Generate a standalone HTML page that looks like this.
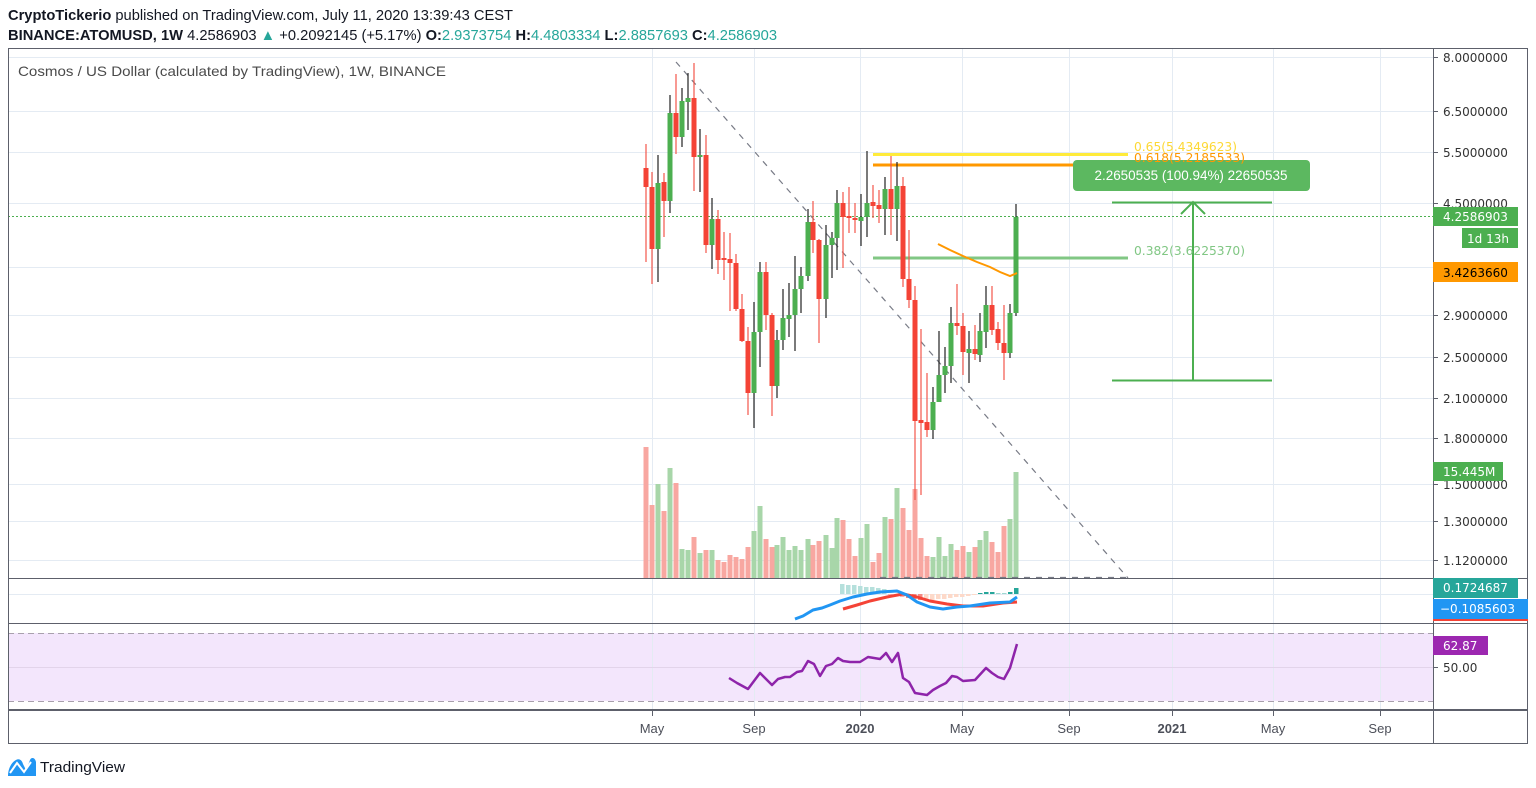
<!DOCTYPE html>
<html><head><meta charset="utf-8"><style>
html,body{margin:0;padding:0;background:#fff;width:1536px;height:788px;overflow:hidden}
svg{display:block}
.ax{font-family:"DejaVu Sans",sans-serif;font-size:12px;fill:#333}
.hd{font-family:"Liberation Sans",sans-serif;font-size:15px;fill:#131722}
.tm{font-family:"Liberation Sans",sans-serif;font-size:13px;fill:#4c4f59}
</style></head><body>
<svg width="1536" height="788" viewBox="0 0 1536 788" xmlns="http://www.w3.org/2000/svg">
<rect width="1536" height="788" fill="#fff"/>
<!-- header -->
<text class="hd" x="8" y="20" textLength="505" lengthAdjust="spacingAndGlyphs"><tspan font-weight="bold">CryptoTickerio</tspan> published on TradingView.com, July 11, 2020 13:39:43 CEST</text>
<text class="hd" x="8" y="40" textLength="769" lengthAdjust="spacingAndGlyphs"><tspan font-weight="bold">BINANCE:ATOMUSD, 1W</tspan> 4.2586903 <tspan fill="#26a69a">▲</tspan> +0.2092145 (+5.17%) <tspan font-weight="bold">O:</tspan><tspan fill="#26a69a">2.9373754</tspan> <tspan font-weight="bold">H:</tspan><tspan fill="#26a69a">4.4803334</tspan> <tspan font-weight="bold">L:</tspan><tspan fill="#26a69a">2.8857693</tspan> <tspan font-weight="bold">C:</tspan><tspan fill="#26a69a">4.2586903</tspan></text>

<!-- RSI background -->
<rect x="8" y="633" width="1425" height="68" fill="#f3e6fc"/>

<!-- grid -->
<g stroke="#e4ebf3" stroke-width="1">
<path d="M652.5 49V710M754.5 49V710M860.5 49V710M962.5 49V710M1069.5 49V710M1172.5 49V710M1273.5 49V710M1380.5 49V710"/>
<path d="M8 57.5H1433M8 111.5H1433M8 152.5H1433M8 203.5H1433M8 267.5H1433M8 315.5H1433M8 357.5H1433M8 398.5H1433M8 438.5H1433M8 484.5H1433M8 521.5H1433M8 560.5H1433"/>
<path d="M8 594.5H1433"/>
<path d="M8 667.5H1433" stroke="#e2d4ea"/>
</g>
<g stroke="#a8a0ad" stroke-width="1" stroke-dasharray="6,4">
<path d="M8 633.5H1433M8 701.5H1433"/>
</g>

<!-- volume -->
<g fill="#a8d6a9">
<rect x="655.5" y="484" width="5" height="94"/><rect x="667.5" y="468" width="5" height="110"/><rect x="679.5" y="549" width="5" height="29"/><rect x="685.5" y="550" width="5" height="28"/><rect x="697.5" y="553" width="5" height="25"/><rect x="709.5" y="550" width="5" height="28"/><rect x="751.5" y="531" width="5" height="47"/><rect x="757.5" y="506" width="5" height="72"/><rect x="774.5" y="545" width="5" height="33"/><rect x="780.5" y="537" width="5" height="41"/><rect x="786.5" y="550" width="5" height="28"/><rect x="792.5" y="546" width="5" height="32"/><rect x="798.5" y="550" width="5" height="28"/><rect x="805.5" y="539" width="5" height="39"/><rect x="823.5" y="535" width="5" height="43"/><rect x="829.5" y="548" width="5" height="30"/><rect x="834.5" y="518" width="5" height="60"/><rect x="858.5" y="538" width="5" height="40"/><rect x="864.5" y="524" width="5" height="54"/><rect x="882.5" y="517" width="5" height="61"/><rect x="894.5" y="488" width="5" height="90"/><rect x="930.5" y="557" width="5" height="21"/><rect x="936.5" y="537" width="5" height="41"/><rect x="942.5" y="556" width="5" height="22"/><rect x="948.5" y="544" width="5" height="34"/><rect x="966.5" y="552" width="5" height="26"/><rect x="977.5" y="540" width="5" height="38"/><rect x="983.5" y="531" width="5" height="47"/><rect x="1007.5" y="519" width="5" height="59"/><rect x="1013.5" y="472" width="5" height="106"/>
</g>
<g fill="#f8a7a1">
<rect x="643.5" y="447" width="5" height="131"/><rect x="649.5" y="505" width="5" height="73"/><rect x="661.5" y="511" width="5" height="67"/><rect x="673.5" y="483" width="5" height="95"/><rect x="691.5" y="537" width="5" height="41"/><rect x="703.5" y="550" width="5" height="28"/><rect x="715.5" y="560" width="5" height="18"/><rect x="721.5" y="562" width="5" height="16"/><rect x="727.5" y="555" width="5" height="23"/><rect x="733.5" y="557" width="5" height="21"/><rect x="739.5" y="559" width="5" height="19"/><rect x="745.5" y="547" width="5" height="31"/><rect x="763.5" y="539" width="5" height="39"/><rect x="769.5" y="547" width="5" height="31"/><rect x="810.5" y="545" width="5" height="33"/><rect x="816.5" y="541" width="5" height="37"/><rect x="840.5" y="520" width="5" height="58"/><rect x="846.5" y="539" width="5" height="39"/><rect x="852.5" y="556" width="5" height="22"/><rect x="870.5" y="562" width="5" height="16"/><rect x="876.5" y="553" width="5" height="25"/><rect x="888.5" y="519" width="5" height="59"/><rect x="900.5" y="508" width="5" height="70"/><rect x="906.5" y="530" width="5" height="48"/><rect x="912.5" y="489" width="5" height="89"/><rect x="918.5" y="538" width="5" height="40"/><rect x="924.5" y="556" width="5" height="22"/><rect x="954.5" y="550" width="5" height="28"/><rect x="960.5" y="546" width="5" height="32"/><rect x="972.5" y="547" width="5" height="31"/><rect x="989.5" y="542" width="5" height="36"/><rect x="995.5" y="552" width="5" height="26"/><rect x="1001.5" y="526" width="5" height="52"/>
</g>

<!-- current price dotted line -->
<path d="M8 216.5H1433" stroke="#4caf50" stroke-width="1" stroke-dasharray="2,2"/>

<!-- trend line -->
<path d="M676 62L1128 578" stroke="#787b86" stroke-width="1.2" stroke-dasharray="6,6" fill="none"/>
<path d="M880 577.5H1130" stroke="#787b86" stroke-width="1.2" stroke-dasharray="6,6"/>

<!-- fib lines -->
<path d="M873 154.5H1128" stroke="#ffeb3b" stroke-width="3"/>
<path d="M873 165H1128" stroke="#ff9800" stroke-width="3"/>
<path d="M873 258H1128" stroke="#81c784" stroke-width="3"/>

<!-- candles wicks -->
<path stroke="#222" stroke-width="1.2" fill="none" d="M658 155V282M670 95V213M682 88V147M688 73V130M700 129V192M712 198V269M754 302V428M760 262V367M777 330V398M783 289V350M789 283V337M795 256V351M801 267V313M808 209V281M826 225V318M832 232V278M837 190V270M861 194V246M867 151V237M885 177V235M897 162V241M933 387V439M939 331V402M945 347V393M951 307V383M969 331V383M980 313V362M986 286V348M1010 304V358M1016 204V316"/>
<path stroke="#f2564b" stroke-width="1.2" fill="none" d="M646 144V262M652 172V284M664 173V237M676 74V154M694 63V191M706 135V253M718 210V274M724 232V280M730 233V311M736 254V311M742 294V342M748 327V415M766 262V330M772 313V416M813 201V253M819 239V343M843 192V268M849 187V233M855 203V233M873 185V218M879 190V223M891 156V235M903 177V287M909 230V308M915 286V500M921 329V495M927 373V437M957 284V335M963 313V375M975 325V360M992 286V335M998 322V350M1004 305V380"/>
<g fill="#4caf50">
<rect x="655.5" y="183" width="5" height="66"/><rect x="667.5" y="113" width="5" height="88"/><rect x="679.5" y="101" width="5" height="36"/><rect x="685.5" y="98" width="5" height="4"/><rect x="697.5" y="155" width="5" height="2"/><rect x="709.5" y="219" width="5" height="26"/><rect x="751.5" y="332" width="5" height="61"/><rect x="757.5" y="272" width="5" height="60"/><rect x="774.5" y="340" width="5" height="46"/><rect x="780.5" y="318" width="5" height="22"/><rect x="786.5" y="315" width="5" height="4"/><rect x="792.5" y="289" width="5" height="26"/><rect x="798.5" y="276" width="5" height="13"/><rect x="805.5" y="222" width="5" height="54"/><rect x="823.5" y="245" width="5" height="54"/><rect x="829.5" y="238" width="5" height="7"/><rect x="834.5" y="203" width="5" height="35"/><rect x="858.5" y="217" width="5" height="4"/><rect x="864.5" y="203" width="5" height="14"/><rect x="882.5" y="189" width="5" height="20"/><rect x="894.5" y="186" width="5" height="23"/><rect x="930.5" y="402" width="5" height="28"/><rect x="936.5" y="375" width="5" height="27"/><rect x="942.5" y="366" width="5" height="9"/><rect x="948.5" y="323" width="5" height="43"/><rect x="966.5" y="349" width="5" height="4"/><rect x="977.5" y="331" width="5" height="24"/><rect x="983.5" y="305" width="5" height="27"/><rect x="1007.5" y="313" width="5" height="40"/><rect x="1013.5" y="217" width="5" height="96"/>
</g>
<g fill="#f44336">
<rect x="643.5" y="168" width="5" height="19"/><rect x="649.5" y="187" width="5" height="62"/><rect x="661.5" y="182" width="5" height="19"/><rect x="673.5" y="113" width="5" height="24"/><rect x="691.5" y="98" width="5" height="59"/><rect x="703.5" y="155" width="5" height="90"/><rect x="715.5" y="219" width="5" height="41"/><rect x="721.5" y="258" width="5" height="2"/><rect x="727.5" y="259" width="5" height="4"/><rect x="733.5" y="263" width="5" height="46"/><rect x="739.5" y="309" width="5" height="32"/><rect x="745.5" y="341" width="5" height="52"/><rect x="763.5" y="272" width="5" height="43"/><rect x="769.5" y="315" width="5" height="71"/><rect x="810.5" y="222" width="5" height="18"/><rect x="816.5" y="240" width="5" height="59"/><rect x="840.5" y="203" width="5" height="14"/><rect x="846.5" y="216" width="5" height="2"/><rect x="852.5" y="218" width="5" height="2"/><rect x="870.5" y="202" width="5" height="4"/><rect x="876.5" y="205" width="5" height="4"/><rect x="888.5" y="189" width="5" height="20"/><rect x="900.5" y="186" width="5" height="93"/><rect x="906.5" y="279" width="5" height="21"/><rect x="912.5" y="300" width="5" height="121"/><rect x="918.5" y="420" width="5" height="3"/><rect x="924.5" y="422" width="5" height="8"/><rect x="954.5" y="323" width="5" height="3"/><rect x="960.5" y="326" width="5" height="26"/><rect x="972.5" y="349" width="5" height="5"/><rect x="989.5" y="305" width="5" height="25"/><rect x="995.5" y="329" width="5" height="14"/><rect x="1001.5" y="343" width="5" height="10"/>
</g>

<!-- MA line -->
<polyline fill="none" stroke="#ff9800" stroke-width="2" points="938,244 950,250 963,256 977,262 990,267 1000,272 1010,276 1017,273"/>

<!-- measurement tool -->
<g stroke="#4caf50" stroke-width="2" fill="none">
<path d="M1112 202.5H1272M1112 380.5H1272M1193 203V380M1181 214L1193 202L1205 214"/>
</g>
<rect x="1073" y="160" width="237" height="31" rx="4" fill="#5cb860"/>
<text x="1191" y="180" text-anchor="middle" font-family="Liberation Sans, sans-serif" font-size="14" fill="#fff" textLength="193" lengthAdjust="spacingAndGlyphs">2.2650535 (100.94%) 22650535</text>

<!-- fib labels -->
<g font-family="DejaVu Sans, sans-serif" font-size="12">
<text x="1134" y="151" fill="#fdd835" textLength="103" lengthAdjust="spacingAndGlyphs">0.65(5.4349623)</text>
<text x="1134" y="162" fill="#ff9800" textLength="111" lengthAdjust="spacingAndGlyphs">0.618(5.2185533)</text>
<text x="1134" y="255" fill="#81c784" textLength="111" lengthAdjust="spacingAndGlyphs">0.382(3.6225370)</text>
</g>

<!-- MACD histogram -->
<g fill="#b6e0dc">
<rect x="840" y="584" width="4.5" height="10"/><rect x="846" y="585" width="4.5" height="9"/><rect x="852" y="585" width="4.5" height="9"/><rect x="858" y="586" width="4.5" height="8"/><rect x="864" y="587" width="4.5" height="7"/><rect x="870" y="587" width="4.5" height="7"/><rect x="876" y="588" width="4.5" height="6"/><rect x="882" y="589" width="4.5" height="5"/>
</g>
<g fill="#f9b1ab">
<rect x="888" y="594" width="4.5" height="1"/><rect x="894" y="594" width="4.5" height="2"/><rect x="900" y="594" width="4.5" height="3"/>
</g>
<g fill="#f48a82">
<rect x="906" y="594" width="4.5" height="4"/><rect x="912" y="594" width="4.5" height="5"/><rect x="918" y="594" width="4.5" height="6"/>
</g>
<g fill="#fdd9c9">
<rect x="924" y="594" width="4.5" height="6"/><rect x="930" y="594" width="4.5" height="6"/><rect x="936" y="594" width="4.5" height="5"/><rect x="942" y="594" width="4.5" height="5"/><rect x="948" y="594" width="4.5" height="4"/><rect x="954" y="594" width="4.5" height="3"/><rect x="960" y="594" width="4.5" height="3"/><rect x="966" y="594" width="4.5" height="2"/><rect x="972" y="594" width="4.5" height="1"/>
</g>
<g fill="#26a69a">
<rect x="978" y="593" width="4.5" height="1"/><rect x="984" y="592" width="4.5" height="2"/><rect x="990" y="592" width="4.5" height="2"/><rect x="996" y="593" width="4.5" height="1" fill="#9fd8d2"/><rect x="1002" y="593" width="4.5" height="1" fill="#9fd8d2"/><rect x="1008" y="592" width="4.5" height="2"/><rect x="1014" y="588" width="4.5" height="6"/>
</g>
<!-- MACD lines -->
<polyline fill="none" stroke="#f44336" stroke-width="3" stroke-linejoin="round" points="843,609 857,605 870,601 887,597 903,594 917,597 930,601 947,604 963,606 983,606 1003,603 1017,602"/>
<polyline fill="none" stroke="#2196f3" stroke-width="3" stroke-linejoin="round" points="795,619 803,616 813,610 822,608 830,605 840,601 853,597 867,594 880,592 897,591 907,595 917,602 930,607 943,609 957,607 970,606 990,603 1010,602 1017,597"/>

<!-- RSI line -->
<polyline fill="none" stroke="#8e24aa" stroke-width="2.5" stroke-linejoin="round" points="729,678 737,683 748,689 760,673 772,685 778,679 785,677 790,677 797,672 802,671 808,661 814,664 820,676 826,666 832,664 838,658 843,661 850,662 860,662 868,657 880,659 886,653 892,662 898,653 903,678 909,682 915,693 927,695 933,690 940,686 946,683 952,676 957,677 963,681 975,680 986,668 992,673 998,677 1004,679 1010,668 1017,644"/>

<!-- legend -->
<text x="18" y="76" font-family="Liberation Sans, sans-serif" font-size="14" fill="#4a4a4a" textLength="428" lengthAdjust="spacingAndGlyphs">Cosmos / US Dollar (calculated by TradingView), 1W, BINANCE</text>

<!-- frame -->
<rect x="1433" y="48" width="95" height="696" fill="#fff"/>
<rect x="8" y="711" width="1425" height="33" fill="#fff"/>
<g stroke="#5d606b" stroke-width="1" fill="none">
<path d="M8.5 48V744M1527.5 48V744M1433.5 48V744M8 48.5H1528M8 578.5H1528M8 623.5H1528M8 743.5H1528"/>
</g>
<path d="M8 710H1528" stroke="#5d606b" stroke-width="2"/>

<!-- price axis ticks and labels -->
<g stroke="#5d606b" stroke-width="1">
<path d="M1433 57.5H1438M1433 111.5H1438M1433 152.5H1438M1433 203.5H1438M1433 315.5H1438M1433 357.5H1438M1433 398.5H1438M1433 438.5H1438M1433 484.5H1438M1433 521.5H1438M1433 560.5H1438M1433 667.5H1438"/>
<path d="M652.5 710V716M754.5 710V716M860.5 710V716M962.5 710V716M1069.5 710V716M1172.5 710V716M1273.5 710V716M1380.5 710V716"/>
</g>
<g class="ax">
<text x="1443" y="62">8.0000000</text>
<text x="1443" y="116">6.5000000</text>
<text x="1443" y="157">5.5000000</text>
<text x="1443" y="208">4.5000000</text>
<text x="1443" y="320">2.9000000</text>
<text x="1443" y="362">2.5000000</text>
<text x="1443" y="403">2.1000000</text>
<text x="1443" y="443">1.8000000</text>
<text x="1443" y="489">1.5000000</text>
<text x="1443" y="526">1.3000000</text>
<text x="1443" y="565">1.1200000</text>
<text x="1443" y="672">50.00</text>
</g>
<!-- price boxes -->
<rect x="1433" y="207" width="85" height="19" fill="#4caf50"/>
<text class="ax" x="1443" y="221" fill="#fff" style="fill:#fff">4.2586903</text>
<rect x="1462" y="228" width="56" height="20" fill="#4caf50"/>
<text class="ax" x="1467" y="243" style="fill:#fff">1d 13h</text>
<rect x="1433" y="262" width="85" height="20" fill="#ff9800"/>
<text class="ax" x="1443" y="277" style="fill:#000">3.4263660</text>
<rect x="1433" y="462" width="70" height="19" fill="#4caf50"/>
<text class="ax" x="1443" y="476" style="fill:#fff">15.445M</text>
<rect x="1433" y="578" width="85" height="20" fill="#26a69a"/>
<text class="ax" x="1443" y="592" style="fill:#fff">0.1724687</text>
<rect x="1433" y="599" width="95" height="20" fill="#2196f3"/>
<text class="ax" x="1440" y="613" style="fill:#fff">−0.1085603</text>
<rect x="1433" y="619" width="95" height="2" fill="#f44336"/>
<rect x="1433" y="636" width="55" height="19" fill="#9c27b0"/>
<text class="ax" x="1443" y="650" style="fill:#fff">62.87</text>

<!-- time axis labels -->
<g class="tm" text-anchor="middle">
<text x="652" y="733">May</text>
<text x="754" y="733">Sep</text>
<text x="860" y="733" font-weight="bold">2020</text>
<text x="962" y="733">May</text>
<text x="1069" y="733">Sep</text>
<text x="1172" y="733" font-weight="bold">2021</text>
<text x="1273" y="733">May</text>
<text x="1380" y="733">Sep</text>
</g>

<!-- TradingView logo -->
<g>
<path d="M8 776 C8 768 12 762 16 760 C19 758 22 760 23 764 L26 770 L30 760 C31 757 35 757 36 762 L36 776 Z" fill="#2196f3"/>
<path d="M10 773 L17 763 L24 772 L31 762" stroke="#fff" stroke-width="2" fill="none"/>
</g>
<text x="40" y="772" font-family="Liberation Sans, sans-serif" font-size="15" fill="#131722" textLength="85" lengthAdjust="spacingAndGlyphs">TradingView</text>
</svg>
</body></html>
